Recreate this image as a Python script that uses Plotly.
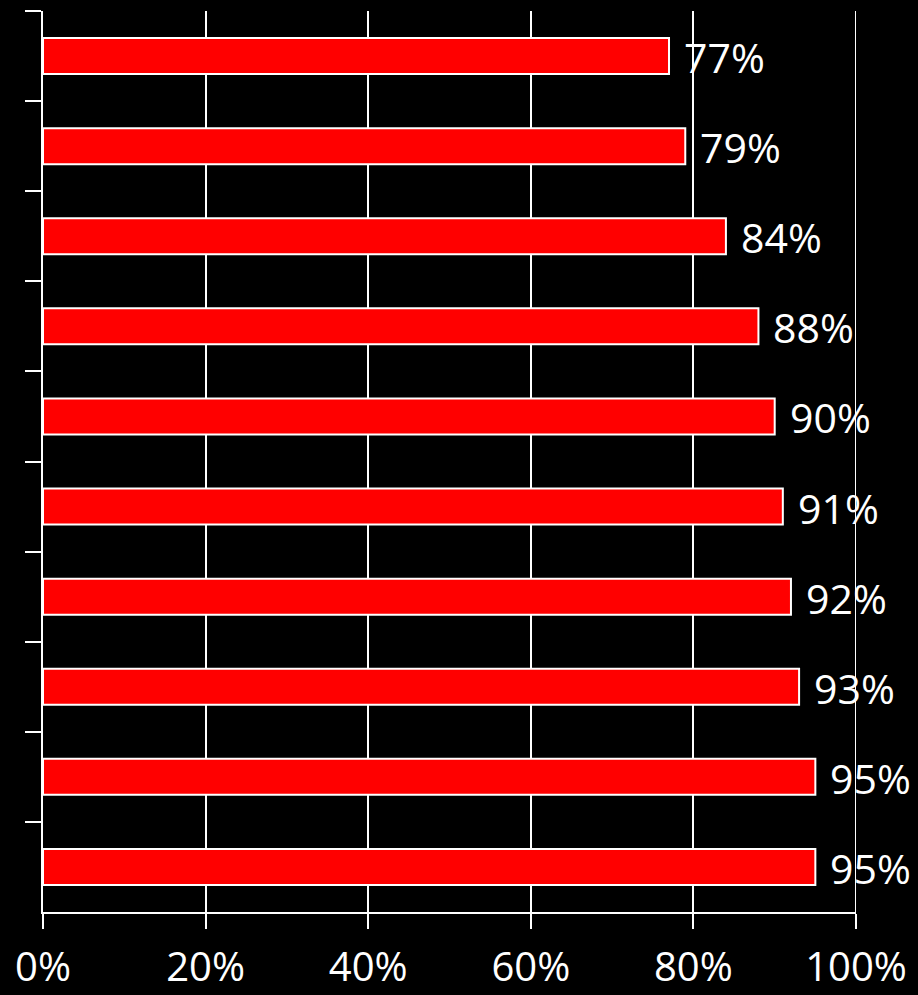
import plotly.graph_objects as go

# Share of respondents per item, listed top to bottom
categories = ["Item 1", "Item 2", "Item 3", "Item 4", "Item 5",
              "Item 6", "Item 7", "Item 8", "Item 9", "Item 10"]
values = [77, 79, 84, 88, 90, 91, 92, 93, 95, 95]
x_tick_values = [0, 20, 40, 60, 80, 100]
x_tick_labels = ["0%", "20%", "40%", "60%", "80%", "100%"]

FONT = "Open Sans"
WHITE = "#ffffff"

fig = go.Figure(
    go.Bar(
        x=values,
        y=categories,
        orientation="h",
        marker=dict(color="#ff0000", line=dict(color=WHITE, width=2)),
        hoverinfo="skip",
    )
)

# Value labels just past the end of each bar
for cat, val in zip(categories, values):
    fig.add_annotation(
        x=val, y=cat, text=f"{val}%",
        xanchor="left", yanchor="middle",
        xshift=13, yshift=-1, showarrow=False,
        font=dict(family=FONT, size=41, color=WHITE),
    )

# Gridline at the right end of the range (edge gridlines are not drawn by default)
fig.add_vline(x=x_tick_values[-1], line=dict(color=WHITE, width=2), layer="below")

fig.update_layout(
    width=918, height=995,
    margin=dict(l=43, r=62, t=11, b=83),
    paper_bgcolor="#000000",
    plot_bgcolor="#000000",
    bargap=0.6,
    showlegend=False,
    font=dict(family=FONT, size=41, color=WHITE),
)

fig.update_xaxes(
    range=[0, 100],
    tickvals=x_tick_values,
    ticktext=x_tick_labels,
    showgrid=True, gridcolor=WHITE, gridwidth=2,
    showline=True, linecolor=WHITE, linewidth=2,
    ticks="outside", ticklen=15, tickwidth=2, tickcolor=WHITE,
    zeroline=False,
    automargin=False,
    tickfont=dict(family=FONT, size=40, color=WHITE),
    ticklabelstandoff=4,
)

fig.update_yaxes(
    type="category",
    categoryorder="array", categoryarray=categories,
    autorange="reversed",
    showgrid=False,
    showline=True, linecolor=WHITE, linewidth=2,
    ticks="outside", tickson="boundaries", ticklen=16, tickwidth=2, tickcolor=WHITE,
    showticklabels=False,
    automargin=False,
)

fig.write_html("out.html")
